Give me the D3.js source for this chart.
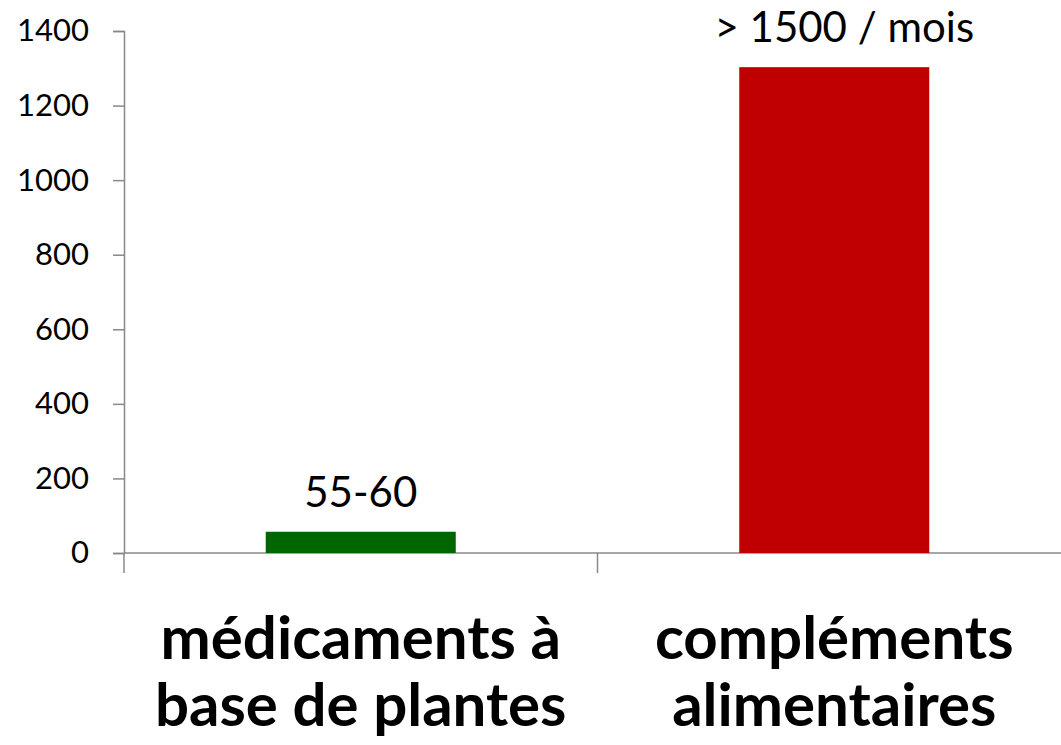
<!DOCTYPE html>
<html>
<head>
<meta charset="utf-8">
<script src="https://cdn.jsdelivr.net/npm/d3@7"></script>
<style>
	body { margin: 0; background: #fff; }
	svg { display: block; }
</style>
</head>
<body>
<div id="chart"></div>
<script>
// data
const categories = [["médicaments à", "base de plantes"], ["compléments", "alimentaires"]];
const values = [57, 1303];
const valueLabels = ["55-60", "> 1500 / mois"];
const barColors = ["#006600", "#c00000"];
const yTicks = [0, 200, 400, 600, 800, 1000, 1200, 1400];

const width = 1061;
const height = 745;
const margin = {top: 31, right: -10, bottom: 192, left: 124};

const svg = d3.select("#chart")
	.append("svg")
	.attr("width", width)
	.attr("height", height);

const x = d3.scaleBand()
	.domain(d3.range(values.length))
	.range([margin.left, width - margin.right])
	.paddingInner(0)
	.paddingOuter(0);

const y = d3.scaleLinear()
	.domain([0, 1400])
	.range([height - margin.bottom, margin.top]);

const barW = 190;

// y axis
const yAxis = svg.append("g")
	.attr("transform", `translate(${margin.left},0)`)
	.call(d3.axisLeft(y).tickValues(yTicks).tickSize(11).tickPadding(24).tickFormat(d3.format("d")));
yAxis.select(".domain").attr("stroke", "#888").attr("stroke-width", 1.5);
yAxis.selectAll(".tick line").attr("stroke", "#888").attr("stroke-width", 1.5);
yAxis.selectAll(".tick text")
	.attr("font-family", "Lato, sans-serif")
	.attr("font-size", "31px")
	.attr("fill", "#000");

// x axis line + category separators
svg.append("line")
	.attr("x1", margin.left).attr("x2", width)
	.attr("y1", y(0)).attr("y2", y(0))
	.attr("stroke", "#888").attr("stroke-width", 1.5);

const bounds = [margin.left].concat(d3.range(values.length).map(i => x(i) + x.bandwidth()));
svg.selectAll("line.sep")
	.data(bounds)
	.enter()
	.append("line")
	.attr("class", "sep")
	.attr("x1", d => d).attr("x2", d => d)
	.attr("y1", y(0)).attr("y2", y(0) + 20)
	.attr("stroke", "#888").attr("stroke-width", 1.5);

// bars
svg.selectAll("rect.bar")
	.data(values)
	.enter()
	.append("rect")
	.attr("class", "bar")
	.attr("x", (d, i) => x(i) + x.bandwidth() / 2 - barW / 2)
	.attr("y", d => y(d))
	.attr("width", barW)
	.attr("height", d => y(0) - y(d))
	.attr("fill", (d, i) => barColors[i]);

// value labels
svg.selectAll("text.value")
	.data(values)
	.enter()
	.append("text")
	.attr("class", "value")
	.text((d, i) => valueLabels[i])
	.attr("text-anchor", "middle")
	.attr("font-family", "Lato, sans-serif")
	.attr("font-size", "42px")
	.attr("x", (d, i) => x(i) + x.bandwidth() / 2 + (i == 1 ? 10 : 0))
	.attr("y", d => y(d) - 25);

// category labels
const cat = svg.selectAll("text.cat")
	.data(categories)
	.enter()
	.append("text")
	.attr("class", "cat")
	.attr("text-anchor", "middle")
	.attr("font-family", "Lato, sans-serif")
	.attr("font-weight", "bold")
	.attr("font-size", "60px")
	.attr("fill", "#000");

cat.selectAll("tspan")
	.data((d, i) => d.map(t => ({t: t, i: i})))
	.enter()
	.append("tspan")
	.attr("x", d => x(d.i) + x.bandwidth() / 2)
	.attr("y", (d, j) => 659 + j * 67)
	.text(d => d.t);
</script>
</body>
</html>
